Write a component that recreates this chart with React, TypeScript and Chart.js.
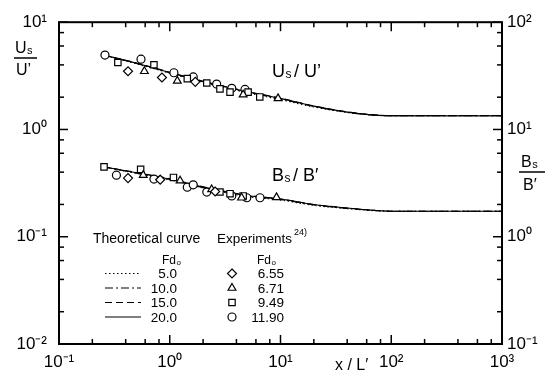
import React, { useEffect, useRef } from 'react';
import { Chart, registerables } from 'chart.js';
Chart.register(...registerables);

const FONT = "'Liberation Sans', Arial, sans-serif";

// Theoretical curves: x/L' sample points and values for each Fd0
const curveX = [0.25, 0.5, 1, 2, 5, 10, 20, 40, 70, 100, 1000];
const usU_fd5 = [4.95, 4.1, 3.35, 2.75, 2.2, 1.9, 1.62, 1.44, 1.36, 1.35, 1.35];
const usU_fd10 = [4.95, 4.13, 3.38, 2.78, 2.23, 1.93, 1.64, 1.45, 1.36, 1.345, 1.345];
const usU_fd15 = [4.95, 4.17, 3.42, 2.82, 2.26, 1.96, 1.66, 1.46, 1.37, 1.35, 1.35];
const usU_fd20 = [4.95, 4.15, 3.4, 2.8, 2.25, 1.95, 1.65, 1.45, 1.36, 1.34, 1.34];
const bsB_fd5 = [4.5, 3.9, 3.4, 2.85, 2.37, 2.2, 1.96, 1.83, 1.75, 1.73, 1.73];
const bsB_fd10 = [4.5, 3.92, 3.42, 2.87, 2.4, 2.22, 1.98, 1.84, 1.76, 1.73, 1.73];
const bsB_fd15 = [4.5, 3.97, 3.47, 2.92, 2.44, 2.25, 2.0, 1.85, 1.76, 1.73, 1.73];
const bsB_fd20 = [4.5, 3.95, 3.45, 2.9, 2.42, 2.25, 2.0, 1.85, 1.76, 1.73, 1.73];

// Experiments: Us/U'
const uDiamondX = [0.42, 0.85, 1.7];
const uDiamondY = [3.49, 3.05, 2.78];
const uTriangleX = [0.59, 1.17, 4.6, 9.5];
const uTriangleY = [3.49, 2.84, 2.11, 1.95];
const uSquareX = [0.34, 0.72, 1.44, 2.16, 2.84, 3.5, 5.1, 6.5];
const uSquareY = [4.21, 4.01, 2.98, 2.71, 2.39, 2.23, 2.23, 2.01];
const uCircleX = [0.26, 0.55, 1.09, 1.63, 2.65, 3.63, 4.78];
const uCircleY = [4.94, 4.52, 3.38, 3.09, 2.65, 2.42, 2.36];

// Experiments: Bs/B' (right axis)
const bDiamondX = [0.42, 0.82, 2.57];
const bDiamondY = [3.52, 3.4, 2.64];
const bTriangleX = [0.576, 1.24, 2.39, 4.45, 9.2];
const bTriangleY = [3.75, 3.33, 2.76, 2.31, 2.33];
const bSquareX = [0.255, 0.546, 1.08, 2.84, 3.5, 4.6];
const bSquareY = [4.48, 4.25, 3.57, 2.61, 2.52, 2.4];
const bCircleX = [0.33, 0.72, 1.44, 1.63, 2.16, 3.63, 4.96, 6.53];
const bCircleY = [3.75, 3.45, 2.9, 3.05, 2.61, 2.4, 2.31, 2.31];

// Legend
const curveFd = ['5.0', '10.0', '15.0', '20.0'];
const curveDash = [[1.5, 2.5], [8, 3, 2, 3], [7, 4], []];
const expFd = ['6.55', '6.71', '9.49', '11.90'];
const expStyle = ['rectRot', 'triangle', 'rect', 'circle'];

const supMap: Record<string, string> = { '-': '\u207B', '0': '\u2070', '1': '\u00B9', '2': '\u00B2', '3': '\u00B3' };
function powLabel(v: number) {
  const e = Math.log10(v);
  const r = Math.round(e);
  if (Math.abs(e - r) > 1e-6) return '';
  return '10' + String(r).split('').map((c) => supMap[c]).join('');
}

const pts = (xs: number[], ys: number[]) => xs.map((x, i) => ({ x, y: ys[i] }));

function drawMarker(ctx: CanvasRenderingContext2D, style: string, x: number, y: number) {
  ctx.beginPath();
  if (style === 'rectRot') {
    const r = 4.5;
    ctx.moveTo(x, y - r); ctx.lineTo(x + r, y); ctx.lineTo(x, y + r); ctx.lineTo(x - r, y); ctx.closePath();
  } else if (style === 'triangle') {
    const r = 4.5;
    ctx.moveTo(x, y - r); ctx.lineTo(x + r * 0.87, y + r * 0.5); ctx.lineTo(x - r * 0.87, y + r * 0.5); ctx.closePath();
  } else if (style === 'rect') {
    const s = 3.2;
    ctx.rect(x - s, y - s, 2 * s, 2 * s);
  } else {
    ctx.arc(x, y, 4, 0, Math.PI * 2);
  }
  ctx.fillStyle = '#fff';
  ctx.fill();
  ctx.stroke();
  ctx.fillStyle = '#000';
}

// draws main text, a subscript, then the rest; returns end x
function subText(ctx: CanvasRenderingContext2D, main: string, sub: string, rest: string, x: number, y: number, size: number, gap = 0) {
  ctx.font = `${size}px ${FONT}`;
  ctx.fillText(main, x, y);
  let cx = x + ctx.measureText(main).width;
  ctx.font = `${Math.round(size * 0.68)}px ${FONT}`;
  ctx.fillText(sub, cx + 0.5, y + 1);
  cx += ctx.measureText(sub).width + 1 + gap;
  ctx.font = `${size}px ${FONT}`;
  ctx.fillText(rest, cx, y);
  return cx + ctx.measureText(rest).width;
}

const decor = {
  id: 'decor',
  afterDraw(chart: any) {
    const ctx: CanvasRenderingContext2D = chart.ctx;
    const { left, right, top, bottom } = chart.chartArea;
    const sx = chart.scales.x, sy = chart.scales.y, sr = chart.scales.yR;
    ctx.save();
    ctx.strokeStyle = '#000';
    ctx.fillStyle = '#000';
    ctx.lineWidth = 2;
    ctx.strokeRect(left, top, right - left, bottom - top);
    ctx.lineWidth = 1.5;
    const seg = (a: number, b: number, c: number, d: number) => { ctx.beginPath(); ctx.moveTo(a, b); ctx.lineTo(c, d); ctx.stroke(); };
    const mult = [1, 2, 4, 6, 8];
    for (let d = -1; d <= 3; d++) for (const m of mult) {
      const v = m * Math.pow(10, d);
      if (v > 1000.001) continue;
      const p = sx.getPixelForValue(v);
      const L = m === 1 ? 9 : 5;
      seg(p, bottom, p, bottom - L);
      seg(p, top, p, top + L);
    }
    for (let d = -2; d <= 1; d++) for (const m of mult) {
      const v = m * Math.pow(10, d);
      if (v > 10.001) continue;
      const p = sy.getPixelForValue(v);
      seg(left, p, left + (m === 1 ? 9 : 5), p);
    }
    for (let d = -1; d <= 2; d++) for (const m of mult) {
      const v = m * Math.pow(10, d);
      if (v > 100.001) continue;
      const p = sr.getPixelForValue(v);
      seg(right, p, right - (m === 1 ? 9 : 5), p);
    }

    ctx.textBaseline = 'alphabetic';
    ctx.textAlign = 'left';
    // left axis title  Us / U'
    subText(ctx, 'U', 's', '', 15, 53, 16);
    ctx.lineWidth = 1.5;
    seg(14, 58, 37, 58);
    ctx.font = `16px ${FONT}`;
    ctx.fillText("U\u2019", 16, 75);
    // right axis title  Bs / B'
    subText(ctx, 'B', 's', '', 521, 167, 16);
    seg(519, 172, 545, 172);
    ctx.font = `16px ${FONT}`;
    ctx.fillText("B\u2032", 523, 190);
    // x title
    ctx.font = `16px ${FONT}`;
    ctx.fillText("x / L\u2032", 335, 370);
    // in-plot labels
    subText(ctx, 'U', 's', "/ U\u2019", 272, 77, 18, 2);
    subText(ctx, 'B', 's', "/ B\u2032", 272, 181, 18, 2);

    // legend
    ctx.font = `14px ${FONT}`;
    ctx.fillText('Theoretical curve', 93, 243);
    ctx.font = `13.5px ${FONT}`;
    ctx.fillText('Experiments', 217, 243);
    const ew = ctx.measureText('Experiments').width;
    ctx.font = `9px ${FONT}`;
    ctx.fillText('24)', 217 + ew + 2, 235);
    subText(ctx, 'Fd', 'o', '', 162, 264, 12);
    subText(ctx, 'Fd', 'o', '', 257, 264, 12);
    ctx.font = `13.5px ${FONT}`;
    ctx.textAlign = 'right';
    const base = [278, 292.5, 307, 321.5];
    base.forEach((b, i) => {
      ctx.fillText(curveFd[i], 177, b);
      ctx.fillText(expFd[i], 284, b);
    });
    ctx.lineWidth = 1.1;
    base.forEach((b, i) => {
      ctx.setLineDash(curveDash[i]);
      seg(105, b - 4.5, 141, b - 4.5);
    });
    ctx.setLineDash([]);
    ctx.lineWidth = 1.2;
    base.forEach((b, i) => drawMarker(ctx, expStyle[i], 232, b - 4.5));
    ctx.restore();
  },
};

function lineDs(xs: number[], ys: number[], dash: number[], axis: string) {
  return {
    data: pts(xs, ys), yAxisID: axis, borderColor: '#000', borderWidth: 1.1, borderDash: dash,
    pointRadius: 0, cubicInterpolationMode: 'monotone', fill: false, order: 2,
  };
}
function pointDs(xs: number[], ys: number[], style: string, axis: string) {
  return {
    data: pts(xs, ys), yAxisID: axis, showLine: false, pointStyle: style,
    pointRadius: style === 'circle' ? 4 : 4.5,
    pointBorderColor: '#000', pointBackgroundColor: '#fff', pointBorderWidth: 1.2, order: 0,
  };
}

const tickFont = { family: FONT, size: 17 };

export default function App() {
  const ref = useRef<HTMLCanvasElement>(null);
  useEffect(() => {
    const chart = new Chart(ref.current!, {
      type: 'line',
      data: {
        datasets: [
          lineDs(curveX, usU_fd5, curveDash[0], 'y'),
          lineDs(curveX, usU_fd10, curveDash[1], 'y'),
          lineDs(curveX, usU_fd15, curveDash[2], 'y'),
          lineDs(curveX, usU_fd20, curveDash[3], 'y'),
          lineDs(curveX, bsB_fd5, curveDash[0], 'yR'),
          lineDs(curveX, bsB_fd10, curveDash[1], 'yR'),
          lineDs(curveX, bsB_fd15, curveDash[2], 'yR'),
          lineDs(curveX, bsB_fd20, curveDash[3], 'yR'),
          pointDs(uDiamondX, uDiamondY, 'rectRot', 'y'),
          pointDs(uTriangleX, uTriangleY, 'triangle', 'y'),
          pointDs(uSquareX, uSquareY, 'rect', 'y'),
          pointDs(uCircleX, uCircleY, 'circle', 'y'),
          pointDs(bDiamondX, bDiamondY, 'rectRot', 'yR'),
          pointDs(bTriangleX, bTriangleY, 'triangle', 'yR'),
          pointDs(bSquareX, bSquareY, 'rect', 'yR'),
          pointDs(bCircleX, bCircleY, 'circle', 'yR'),
        ] as any,
      },
      options: {
        responsive: false,
        animation: false,
        devicePixelRatio: 1,
        layout: { padding: { top: 11, left: 0, right: 0, bottom: 0 } },
        plugins: { legend: { display: false }, tooltip: { enabled: false } },
        scales: {
          x: {
            type: 'logarithmic', position: 'bottom', min: 0.1, max: 1000,
            grid: { display: false, drawTicks: false }, border: { display: false },
            ticks: { autoSkip: false, maxRotation: 0, padding: 8, color: '#000', font: tickFont, callback: (v: any) => powLabel(Number(v)) },
            afterFit: (s: any) => { s.height = 30; },
          },
          y: {
            type: 'logarithmic', position: 'left', min: 0.01, max: 10,
            grid: { display: false, drawTicks: false }, border: { display: false },
            ticks: { autoSkip: false, padding: 12, color: '#000', font: tickFont, callback: (v: any) => powLabel(Number(v)) },
            afterFit: (s: any) => { s.width = 59; },
          },
          yR: {
            type: 'logarithmic', position: 'right', min: 0.1, max: 100,
            grid: { display: false, drawTicks: false }, border: { display: false },
            ticks: { autoSkip: false, padding: 5, color: '#000', font: tickFont, callback: (v: any) => powLabel(Number(v)) },
            afterFit: (s: any) => { s.width = 46; },
          },
        },
      } as any,
      plugins: [decor],
    });
    return () => chart.destroy();
  }, []);
  return (
    <div style={{ position: 'absolute', left: 0, top: 0, width: 548, height: 374, background: '#fff' }}>
      <canvas ref={ref} width={548} height={374} style={{ width: 548, height: 374, display: 'block' }} />
    </div>
  );
}
